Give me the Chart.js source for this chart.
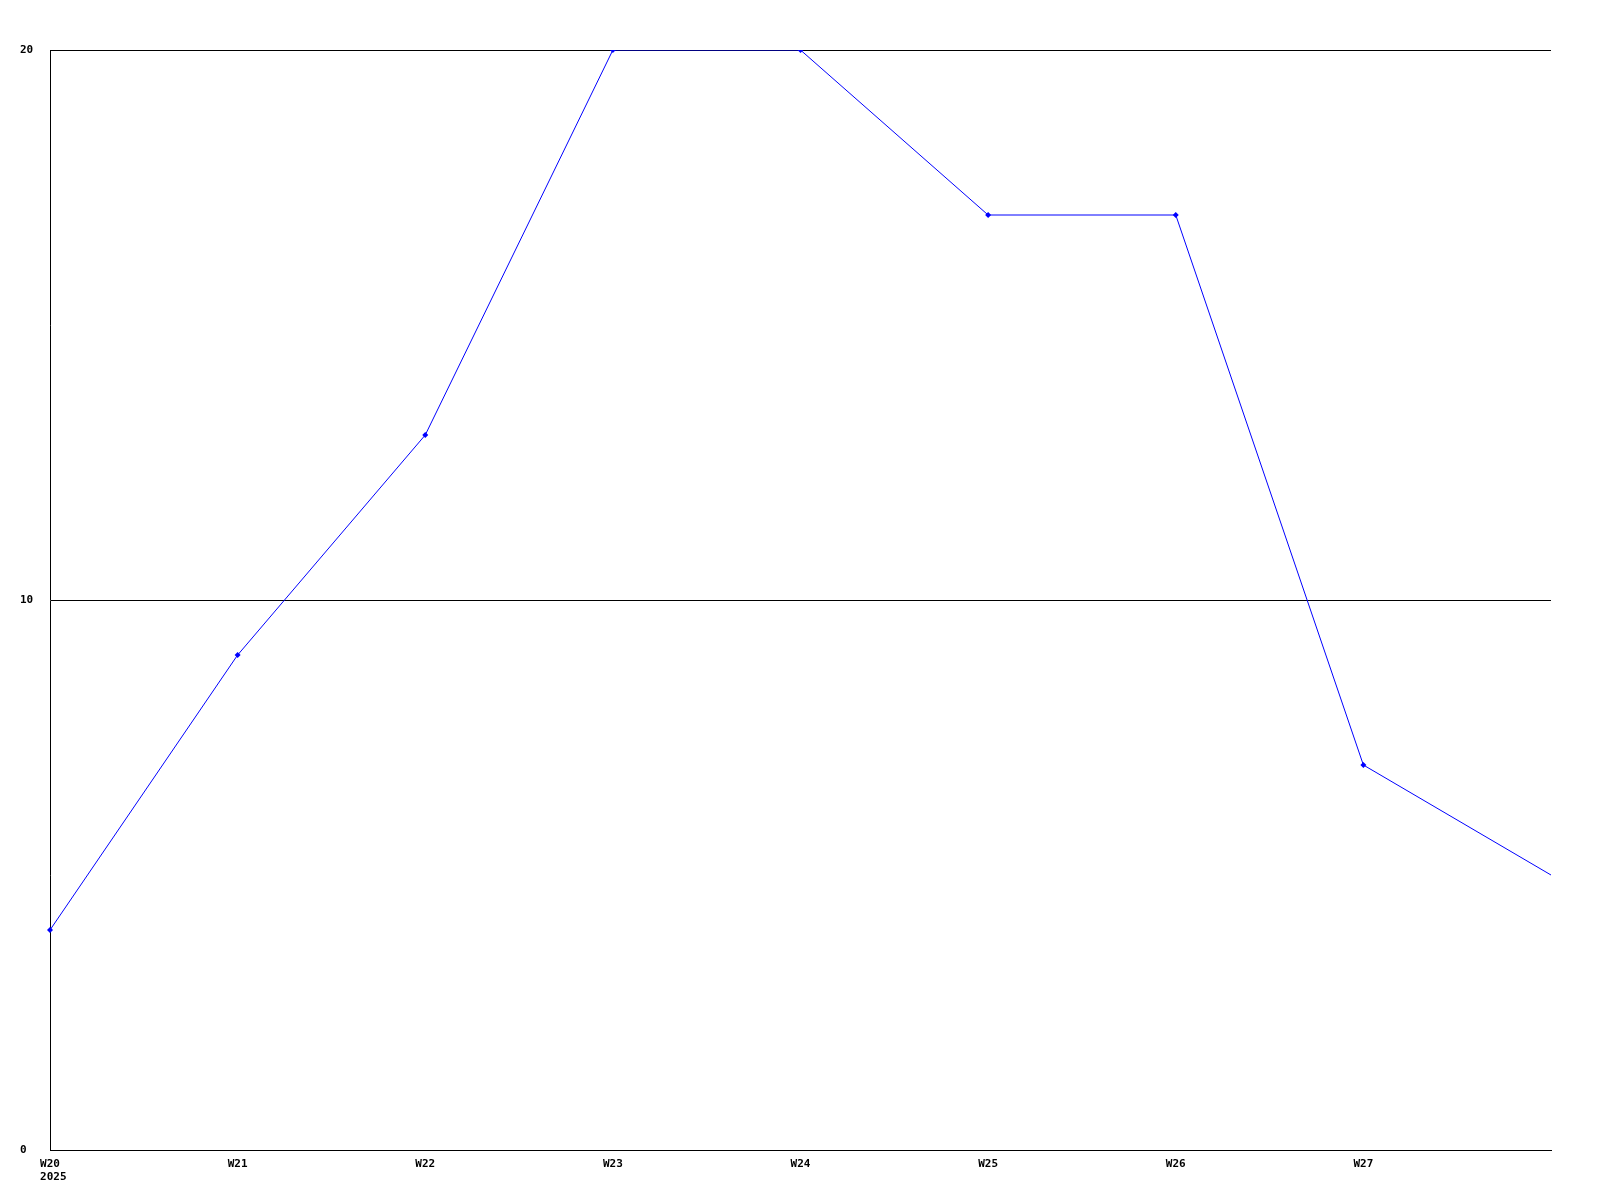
<!DOCTYPE html>
<html>
<head>
<meta charset="utf-8">
<script src="https://cdn.jsdelivr.net/npm/chart.js@4/dist/chart.umd.min.js"></script>
<style>
  html, body { margin: 0; padding: 0; background: #fff; }
  #wrap { width: 1600px; height: 1200px; }
</style>
</head>
<body>
<div id="wrap"><canvas id="lineChart" width="1600" height="1200"></canvas></div>
<script>
// week labels (last one sits on the right edge and has no tick text)
var weeks = ["W20", "W21", "W22", "W23", "W24", "W25", "W26", "W27", "W28"];
var yearLabel = "2025";
var counts = [4, 9, 13, 20, 20, 17, 17, 7, 5];
var yTicks = [0, 10, 20];

var tickFont = { family: "'DejaVu Sans Mono', monospace", size: 11, weight: "bold" };

// Year goes under the first week label, left-aligned with it
var yearPlugin = {
  id: "yearLabel",
  afterDraw: function (chart) {
    var xs = chart.scales.x;
    var c = chart.ctx;
    c.save();
    c.font = "bold 11px 'DejaVu Sans Mono', monospace";
    c.fillStyle = "#000";
    c.textBaseline = "top";
    c.textAlign = "left";
    var w = c.measureText(weeks[0]).width;
    var x0 = xs.getPixelForTick(0) - w / 2;
    c.fillText(yearLabel, x0, xs.top + 8 + 14);
    c.restore();
  },
};

var ctx = document.getElementById("lineChart").getContext("2d");
var myChart = new Chart(ctx, {
  type: "line",
  data: {
    labels: weeks,
    datasets: [
      {
        label: "count",
        data: counts,
        borderColor: "#0000ff",
        backgroundColor: "#0000ff",
        borderWidth: 1,
        tension: 0,
        pointStyle: "rectRot",
        pointRadius: function (c) {
          return c.dataIndex === counts.length - 1 ? 0 : 3;
        },
        pointBorderWidth: 0,
        pointHoverRadius: 3,
      },
    ],
  },
  options: {
    responsive: false,
    animation: false,
    layout: { padding: { left: 20, top: 50, right: 49, bottom: 0 } },
    plugins: {
      legend: { display: false },
      tooltip: { enabled: false },
    },
    scales: {
      x: {
        type: "category",
        offset: false,
        grid: { display: false, drawTicks: false },
        border: { display: true, color: "#000", width: 1 },
        afterFit: function (scale) { scale.height = 50; },
        ticks: {
          autoSkip: false,
          maxRotation: 0,
          minRotation: 0,
          padding: 8,
          color: "#000",
          font: tickFont,
          callback: function (val, i) {
            if (i === weeks.length - 1) return "";
            return weeks[i];
          },
        },
      },
      y: {
        min: yTicks[0],
        max: yTicks[yTicks.length - 1],
        afterBuildTicks: function (scale) {
          scale.ticks = yTicks.map(function (v) { return { value: v }; });
        },
        afterFit: function (scale) { scale.width = 30; },
        grid: { color: "#000", lineWidth: 1, drawTicks: false },
        border: { display: true, color: "#000", width: 1 },
        ticks: {
          crossAlign: "far",
          padding: 4,
          color: "#000",
          font: tickFont,
        },
      },
    },
  },
  plugins: [yearPlugin],
});
</script>
</body>
</html>
